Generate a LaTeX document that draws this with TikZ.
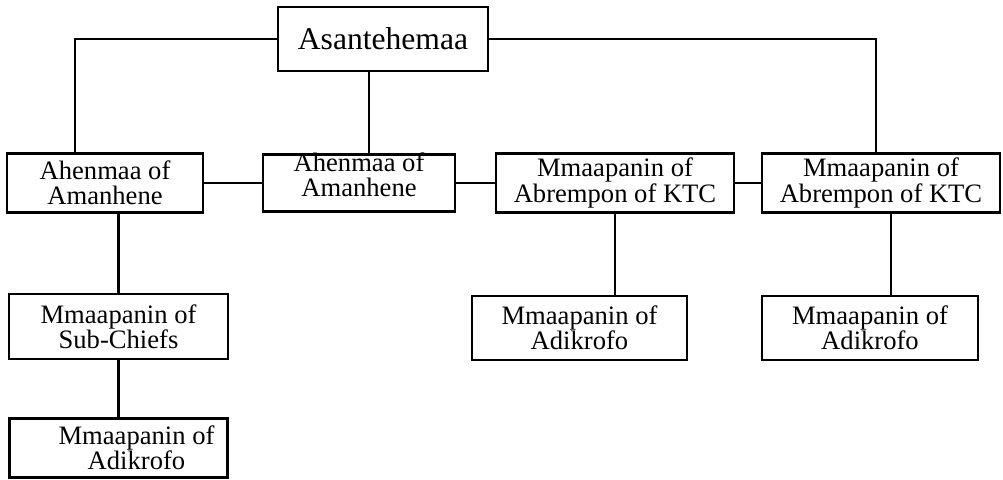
\documentclass[tikz,border=0pt]{standalone}
\usepackage{fontspec}
\setmainfont{Liberation Serif}
\usetikzlibrary{calc}

\begin{document}
\begin{tikzpicture}[x=0.5pt, y=-0.5pt, line width=1.1pt,
    every node/.style={font=\fontsize{13.3}{12.6}\selectfont},
    rank/.style={draw, line width=1.4pt, align=center, inner sep=0pt}]

    % 全体の大きさ (余白込み)
    \useasboundingbox (0,0) rectangle (1003,479);

    % 最上位
    \node[rank, minimum width=105pt, minimum height=32pt, font=\fontsize{15.8}{16}\selectfont] (asante) at (383,39) {Asantehemaa};

    % 第二段
    \node[rank, minimum width=98pt, minimum height=29.5pt] (ahen1) at (105,183) {Ahenmaa of\\Amanhene};
    \node[rank, minimum width=96pt, minimum height=28.5pt] (ahen2) at (359,183) {};
    \node[align=center] (ahen2txt) at ([yshift=4pt]ahen2.center) {Ahenmaa of\\Amanhene};
    \node[rank, minimum width=119pt, minimum height=29.5pt] (mma1) at (615,183) {Mmaapanin of\\Abrempon of KTC};
    \node[rank, minimum width=119pt, minimum height=29.5pt] (mma2) at (881,183) {Mmaapanin of\\Abrempon of KTC};

    % 第三段
    \node[rank, minimum width=109.5pt, minimum height=32.5pt] (sub1) at (118.5,326.5) {Mmaapanin of\\Sub-Chiefs};
    \node[rank, minimum width=107.5pt, minimum height=32pt] (adk2) at (579.5,328) {Mmaapanin of\\Adikrofo};
    \node[rank, minimum width=108pt, minimum height=32pt] (adk3) at (870,328) {Mmaapanin of\\Adikrofo};

    % 第四段
    \node[rank, minimum width=109pt, minimum height=29.5pt] (adk1) at (118.5,448) {\hspace*{18pt}Mmaapanin of\\\hspace*{18pt}Adikrofo};

    % 分岐点
    \coordinate (j1) at ($(ahen1.north west)!0.35!(ahen1.north east)$);
    \coordinate (j2) at ($(ahen2.north west)!0.55!(ahen2.north east)$);
    \coordinate (j3) at ($(mma2.north west)!0.48!(mma2.north east)$);
    \coordinate (j4) at ($(mma2.south west)!0.54!(mma2.south east)$);

    % 最上位からの線
    \draw (asante.west) -| (j1);
    \draw (asante.east) -| (j3);
    \draw (j2) -- (j2 |- asante.south);

    % 横のつながり
    \draw (ahen1.east) -- (ahen2.west);
    \draw (ahen2.east) -- (mma1.west);
    \draw (mma1.east) -- (mma2.west);

    % 下への線
    \draw (sub1.north |- ahen1.south) -- (sub1.north);
    \draw (sub1.south) -- (adk1.north);
    \draw (mma1.south) -- (mma1.south |- adk2.north);
    \draw (j4) -- (j4 |- adk3.north);

\end{tikzpicture}
\end{document}
